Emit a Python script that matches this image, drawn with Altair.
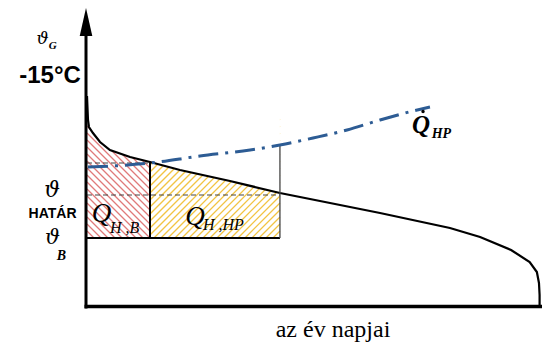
import altair as alt
import pandas as pd

# ---------------- data ----------------
# heating load duration curve: day of the year -> relative level
curve_day = [0, 0.8, 1.6, 4.8, 10.5, 18.5, 34.7, 50.8, 75.0, 115.3, 155.6, 196.0,
             236.3, 292.7, 317.0, 342.0, 357.0, 362.8, 364.5, 365.0, 365.0]
curve_val = [84, 74.4, 71.6, 69.2, 65.6, 62.4, 59.6, 57.6, 54.4, 50.0, 45.2, 41.2,
             37.2, 31.2, 27.6, 22.4, 17.6, 13.6, 9.2, 4.4, 0]

# heat-pump capacity line (Q_HP)
hp_day = [0.8, 26.6, 50.8, 91.1, 131.5, 155.6, 182.3, 209.7, 236.3, 262.9, 276.6]
hp_val = [55.6, 56.2, 57.2, 60.0, 62.4, 64.4, 67.2, 70.4, 74.4, 78.0, 79.6]

# characteristic levels / days
bival_day = 50.8      # bivalent point (HP line meets curve)
limit_day = 155.6     # curve reaches the limit temperature
base_val = 27.2       # level of theta_B
limit_val = 44.4      # level of theta_HATAR
bival_val = 57.2      # level of the bivalent point
hp_limit_val = 64.4   # HP line above limit_day
hatch_top = 75.0

# text
txt_theta = "ϑ"
txt_minus15 = "-15°C"
txt_hatar = "HATÁR"
txt_q = "Q"
txt_sub_G = "G"
txt_sub_B = "B"
txt_sub_HB = "H ,B"
txt_sub_HHP = "H ,HP"
txt_sub_HP = "HP"
txt_xlabel = "az év napjai"

# ---------------- scales ----------------
W, H = 534, 336
XDOM = [-63.71, 366.94]
YDOM = [-15.2, 119.2]
xs = alt.Scale(domain=XDOM, nice=False, zero=False)
ys = alt.Scale(domain=YDOM, nice=False, zero=False)


def X(f):
    return alt.X(f, type="quantitative", scale=xs, axis=None)


def Y(f):
    return alt.Y(f, type="quantitative", scale=ys, axis=None)


curve_df = pd.DataFrame({"day": curve_day, "val": curve_val, "i": range(len(curve_day))})
hp_df = pd.DataFrame({"day": hp_day, "val": hp_val, "i": range(len(hp_day))})

# ---------------- hatching ----------------
k = 0.496   # 45 degree slope in data units
step = 2.8

red_hatch = alt.Chart(
    alt.sequence(base_val, hatch_top + k * bival_day + step, step, as_="c")
).transform_calculate(
    xa=f"max(0, (datum.c - {hatch_top})/{k})",
    xb=f"min({bival_day}, (datum.c - {base_val})/{k})",
).transform_calculate(
    ya=f"datum.c - {k}*datum.xa",
    yb=f"datum.c - {k}*datum.xb",
).transform_filter("datum.xa < datum.xb").mark_rule(
    color="#e07a7a", strokeWidth=1.2
).encode(x=X("xa"), x2="xb:Q", y=Y("ya"), y2="yb:Q")

yel_hatch = alt.Chart(
    alt.sequence(base_val - k * limit_day, hatch_top - k * bival_day + step, step, as_="c")
).transform_calculate(
    xa=f"max({bival_day}, ({base_val} - datum.c)/{k})",
    xb=f"min({limit_day}, ({hatch_top} - datum.c)/{k})",
).transform_calculate(
    ya=f"datum.c + {k}*datum.xa",
    yb=f"datum.c + {k}*datum.xb",
).transform_filter("datum.xa < datum.xb").mark_rule(
    color="#f2c443", strokeWidth=1.3
).encode(x=X("xa"), x2="xb:Q", y=Y("ya"), y2="yb:Q")

mask = alt.Chart(curve_df).transform_filter(
    f"datum.day <= {limit_day + 1}"
).transform_calculate(top=f"{hatch_top + 2}").mark_area(
    color="white", fill="white", opacity=1, fillOpacity=1, orient="vertical"
).encode(x=X("day"), y=Y("val"), y2=alt.Y2("top:Q"))

# ---------------- lines ----------------
curve = alt.Chart(curve_df).mark_line(color="black", strokeWidth=2.2).encode(
    x=X("day"), y=Y("val"), order="i:Q"
)

seg_solid = pd.DataFrame({
    "x": [0, bival_day],
    "x2": [limit_day, bival_day],
    "y": [base_val, base_val],
    "y2": [base_val, curve_val[curve_day.index(bival_day)]],
})
solid = alt.Chart(seg_solid).mark_rule(color="black", strokeWidth=2).encode(
    x=X("x"), x2="x2:Q", y=Y("y"), y2="y2:Q"
)
thin = alt.Chart(pd.DataFrame({"x": [limit_day], "y": [base_val], "y2": [hp_limit_val]})).mark_rule(
    color="#444", strokeWidth=1.3
).encode(x=X("x"), y=Y("y"), y2="y2:Q")

seg_dash = pd.DataFrame({"x": [0, 0], "x2": [bival_day, limit_day], "y": [bival_val, limit_val]})
dashed = alt.Chart(seg_dash).mark_rule(color="#444", strokeWidth=1.2, strokeDash=[5, 3]).encode(
    x=X("x"), x2="x2:Q", y=Y("y")
)

hp_line = alt.Chart(hp_df).mark_line(
    color="#2d5c94", strokeWidth=3, strokeDash=[20, 7, 3, 7], interpolate="monotone"
).encode(x=X("day"), y=Y("val"), order="i:Q")

# ---------------- axes ----------------
yaxis = alt.Chart(pd.DataFrame({"x": [-0.8], "y": [-1.0], "y2": [108.5]})).mark_rule(
    color="black", strokeWidth=3
).encode(x=X("x"), y=Y("y"), y2="y2:Q")
arrow = alt.Chart(pd.DataFrame({"x": [-0.8], "y": [113.6]})).mark_point(
    shape="M0,-1L0.45,1L-0.45,1Z", size=784, filled=True, color="black", opacity=1
).encode(x=X("x"), y=Y("y"))
xaxis = alt.Chart(pd.DataFrame({"x": [-2.0], "x2": [XDOM[1]], "y": [-0.2]})).mark_rule(
    color="black", strokeWidth=3.5
).encode(x=X("x"), x2="x2:Q", y=Y("y"))


# ---------------- labels ----------------
def label(text, day, val, size, font, style="normal", weight="normal", align="center"):
    return alt.Chart(pd.DataFrame({"day": [day], "val": [val], "t": [text]})).mark_text(
        fontSize=size, font=font, fontStyle=style, fontWeight=weight, align=align,
        baseline="middle", color="black"
    ).encode(x=X("day"), y=Y("val"), text="t:N")


SERIF = "Liberation Serif, Times New Roman, serif"
GREEK = "DejaVu Serif, serif"
SANS = "Liberation Sans, Arial, sans-serif"

labels = [
    label(txt_theta, -35.9, 106.8, 17, GREEK, "italic"),
    label(txt_sub_G, -27.6, 104.0, 11, SERIF, "italic", "bold"),
    label(txt_minus15, -29.8, 92.0, 24, SANS, weight="bold"),
    label(txt_theta, -28.2, 46.4, 22, GREEK, "italic"),
    label(txt_hatar, -27.8, 36.8, 14, SANS, weight="bold"),
    label(txt_theta, -27.8, 27.4, 21, GREEK, "italic"),
    label(txt_sub_B, -20.6, 20.2, 14, SERIF, "italic", "bold"),
    label(txt_q, 11.7, 36.8, 27, SERIF, "italic"),
    label(txt_sub_HB, 18.5, 31.4, 16, SERIF, "italic", align="left"),
    label(txt_q, 87.1, 35.6, 27, SERIF, "italic"),
    label(txt_sub_HHP, 93.5, 32.4, 16, SERIF, "italic", align="left"),
    label(txt_q, 269.4, 72.4, 25, SERIF, "italic", "bold"),
    label(txt_sub_HP, 278.0, 69.0, 14, SERIF, "italic", "bold", align="left"),
    label(txt_xlabel, 198.4, -9.6, 24, SERIF),
]
qdot = alt.Chart(pd.DataFrame({"x": [271.0], "y": [77.8]})).mark_circle(
    size=12, color="black", opacity=1
).encode(x=X("x"), y=Y("y"))

chart = alt.layer(
    red_hatch, yel_hatch, mask, curve, solid, thin, dashed, hp_line,
    yaxis, arrow, xaxis, *labels, qdot
).properties(
    width=W, height=H, autosize=alt.AutoSizeParams(type="none"), padding=0
).configure_view(strokeWidth=0)

chart.save("out.html", embed_options={"renderer": "svg", "actions": False})
